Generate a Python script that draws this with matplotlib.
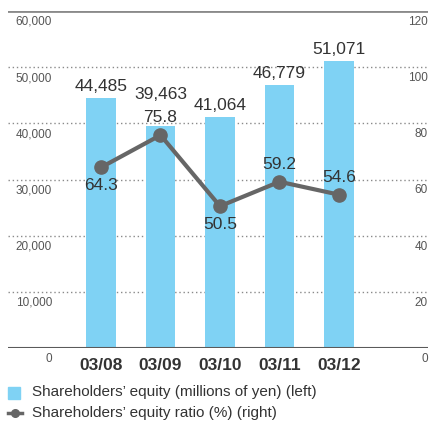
import matplotlib
matplotlib.use("Agg")
import matplotlib.pyplot as plt
from matplotlib.lines import Line2D
from matplotlib.patches import Rectangle

plt.rcParams['font.family'] = ['Liberation Sans', 'DejaVu Sans']

categories = ["03/08", "03/09", "03/10", "03/11", "03/12"]
equity = [44485, 39463, 41064, 46779, 51071]
ratio = [64.3, 75.8, 50.5, 59.2, 54.6]
left_ticks = [0, 10000, 20000, 30000, 40000, 50000, 60000]
right_ticks = [0, 20, 40, 60, 80, 100, 120]
ratio_label_pos = ["below", "above", "below", "above", "above"]

bar_color = "#7fd2f4"
line_color = "#666666"
text_color = "#333333"
tick_color = "#555555"

fig = plt.figure(figsize=(4.30, 4.22), dpi=100)
ax = fig.add_axes([8 / 430, 1 - 348 / 422, 420 / 430, 337 / 422])
ax2 = ax.twinx()

x = list(range(len(categories)))
ax.bar(x, equity, width=0.5, color=bar_color, zorder=2)
ax.set_ylim(0, 60000)
ax.set_xlim(-1.563, 5.496)
ax2.set_ylim(0, 120)

for a in (ax, ax2):
    for s in a.spines.values():
        s.set_visible(False)
    a.set_yticks([])
    a.tick_params(length=0)

ax.set_xticks(x)
ax.set_xticklabels(categories, fontsize=12.5, fontweight="bold", color=text_color)
ax.tick_params(axis="x", pad=7)

# grid lines and frame lines
for v in left_ticks[1:-1]:
    ax.axhline(v, color="#8a8a8a", lw=1.0, ls=(0, (1, 2)), zorder=1)
ax.axhline(0, color="#5a5a5a", lw=1.5, zorder=3)
ax.axhline(60000, color="#8a8a8a", lw=2.0, zorder=3)

# tick labels sit just beneath each grid line
for v in left_ticks:
    ax.annotate(f"{v:,}", xy=(0, v), xycoords=("axes fraction", "data"),
                xytext=(44, -5), textcoords="offset pixels", ha="right", va="top",
                fontsize=8.5, color=tick_color)
for v in right_ticks:
    ax2.annotate(f"{v}", xy=(1, v), xycoords=("axes fraction", "data"),
                 xytext=(0, -5), textcoords="offset pixels", ha="right", va="top",
                 fontsize=8.5, color=tick_color)

# bar value labels; the 03/09 label is lifted clear of the ratio label
lift = {1: 20}
for i, (xi, v) in enumerate(zip(x, equity)):
    ax.annotate(f"{v:,}", xy=(xi, v), xytext=(0, 4 + lift.get(i, 0)),
                textcoords="offset pixels", ha="center", va="bottom",
                fontsize=12.5, color=text_color)

ax2.plot(x, ratio, color=line_color, lw=3, marker="o", markersize=9.5, zorder=4)
for xi, v, pos in zip(x, ratio, ratio_label_pos):
    if pos == "above":
        ax2.annotate(f"{v}", xy=(xi, v), xytext=(0, 10), textcoords="offset pixels",
                     ha="center", va="bottom", fontsize=12.5, color=text_color)
    else:
        ax2.annotate(f"{v}", xy=(xi, v), xytext=(0, -11), textcoords="offset pixels",
                     ha="center", va="top", fontsize=12.5, color=text_color)

# legend
fig.patches.append(Rectangle((8 / 430, 1 - 399 / 422), 12 / 430, 12 / 422,
                             transform=fig.transFigure, color=bar_color))
fig.text(32 / 430, 1 - 392 / 422, "Shareholders\u2019 equity (millions of yen) (left)",
         fontsize=11, color=text_color, va="center", ha="left")
fig.lines.append(Line2D([8 / 430, 22 / 430], [1 - 413 / 422] * 2, transform=fig.transFigure,
                        color=line_color, lw=2.5))
fig.lines.append(Line2D([15 / 430], [1 - 413 / 422], transform=fig.transFigure,
                        color=line_color, marker="o", markersize=5.5, lw=0))
fig.text(32 / 430, 1 - 413 / 422, "Shareholders\u2019 equity ratio (%) (right)",
         fontsize=11, color=text_color, va="center", ha="left")

fig.savefig("out.png", dpi=100)
